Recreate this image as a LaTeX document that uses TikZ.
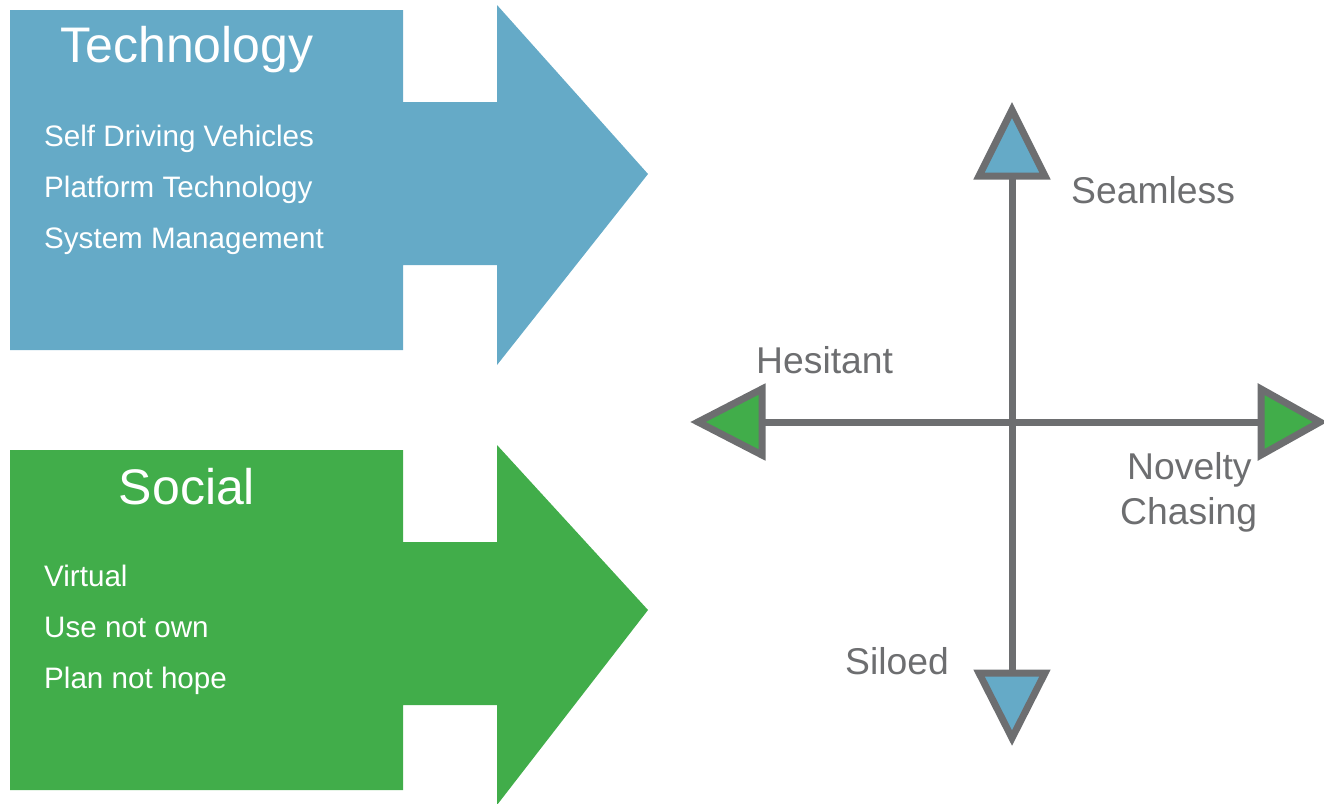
\documentclass[tikz,border=0pt]{standalone}
\usepackage{fontspec}
\setmainfont{Liberation Sans}
\definecolor{techblue}{RGB}{101,170,199}
\definecolor{socgreen}{RGB}{65,173,74}
\definecolor{axgray}{RGB}{109,110,112}
\begin{document}
\begin{tikzpicture}[x=1pt,y=-1pt,
  title/.style={text=white,font=\fontsize{50}{56}\selectfont,anchor=base,inner sep=0pt},
  item/.style={text=white,font=\fontsize{29.6}{34}\selectfont,anchor=base west,inner sep=0pt},
  axlabel/.style={text=axgray,font=\fontsize{37.3}{42}\selectfont,anchor=base west,inner sep=0pt},
  axline/.style={draw=axgray,line width=7pt},
  axhead/.style={draw=axgray,line width=7pt,line join=miter}]
\useasboundingbox (0,0) rectangle (1324,803);
% Technology arrow
\fill[techblue] (10,10) -- (403,10) -- (403,102) -- (497,102) -- (497,5) -- (648,174) -- (497,365) -- (497,265) -- (403,265) -- (403,350) -- (10,350) -- cycle;
\node[title] (tech) at (187,62) {Technology};
\node[item] (t1) at (44,146) {Self Driving Vehicles};
\node[item] (t2) at (44,197) {Platform Technology};
\node[item] (t3) at (44,248) {System Management};
% Social arrow
\fill[socgreen] (10,450) -- (403,450) -- (403,542) -- (497,542) -- (497,445) -- (648,610) -- (497,805) -- (497,705) -- (403,705) -- (403,790) -- (10,790) -- cycle;
\node[title] (soc) at (187,504) {Social};
\node[item] (s1) at (44,586) {Virtual};
\node[item] (s2) at (44,637) {Use not own};
\node[item] (s3) at (44,688) {Plan not hope};
% axes
\coordinate (top) at (1012,176);
\coordinate (bot) at (1012,673);
\coordinate (lft) at (762,422);
\coordinate (rgt) at (1261,422);
\draw[axline] (top) -- (bot);
\draw[axline] (lft) -- (rgt);
\filldraw[axhead,fill=techblue] (979,176) -- (1045,176) -- (1012,110) -- cycle;
\filldraw[axhead,fill=techblue] (979,673) -- (1045,673) -- (1012,738) -- cycle;
\filldraw[axhead,fill=socgreen] (762,389) -- (762,455) -- (698,422) -- cycle;
\filldraw[axhead,fill=socgreen] (1261,389) -- (1261,455) -- (1320,422) -- cycle;
\node[axlabel] (seam) at (1071,203) {Seamless};
\node[axlabel] (hes) at (756,373) {Hesitant};
\node[axlabel] (nov) at (1127,479) {Novelty};
\node[axlabel] (cha) at (1120,524) {Chasing};
\node[axlabel] (sil) at (845,674) {Siloed};
\end{tikzpicture}
\end{document}
